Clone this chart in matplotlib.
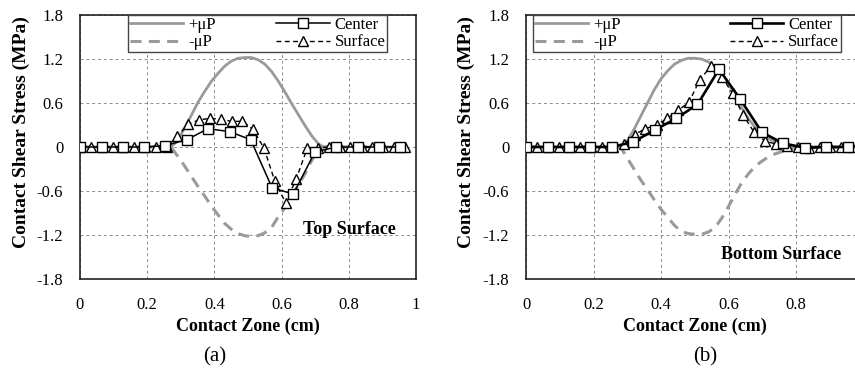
"""Contact shear stress along the contact zone, top (a) and bottom (b) surface.
Excel-style look: serif font, dashed grey grid, boxed legend at the top.
"""
import matplotlib
matplotlib.use("Agg")
import matplotlib.pyplot as plt

# marker positions (cm)
CENTER_X = [0, 0.064, 0.127, 0.19, 0.254, 0.318, 0.381, 0.445, 0.508, 0.572,
            0.635, 0.699, 0.762, 0.826, 0.889, 0.953]
SURFACE_X = [0, 0.032, 0.064, 0.097, 0.129, 0.161, 0.193, 0.225, 0.258, 0.29,
             0.322, 0.354, 0.387, 0.419, 0.451, 0.483, 0.515, 0.548, 0.58, 0.612,
             0.644, 0.676, 0.709, 0.741, 0.773, 0.805, 0.838, 0.87, 0.902, 0.934, 0.966]

# (a) top surface
A_CENTER = [0, 0, 0, 0, 0.02, 0.1, 0.25, 0.21, 0.1, -0.56, -0.64, -0.07, 0, 0, 0, 0]
A_SURFACE = [0, 0, 0, 0, 0, 0, 0, 0, 0, 0.15, 0.31, 0.37, 0.39, 0.38, 0.35, 0.35,
             0.24, -0.02, -0.47, -0.76, -0.43, -0.02, -0.01, 0, 0, 0, 0, 0, 0, 0, 0]
A_MU_X = [0, 0.27, 0.29, 0.31, 0.33, 0.35, 0.37, 0.39, 0.41, 0.43, 0.45, 0.47, 0.49,
          0.51, 0.53, 0.55, 0.57, 0.59, 0.61, 0.63, 0.65, 0.67, 0.69, 0.71, 0.725, 0.97]
A_MU_POS = [0, 0, 0.08, 0.25, 0.42, 0.6, 0.75, 0.89, 1.0, 1.1, 1.17, 1.21, 1.22,
            1.22, 1.19, 1.13, 1.03, 0.9, 0.75, 0.59, 0.44, 0.29, 0.15, 0.04, 0, 0]
A_MU_NEG = [0, 0, -0.12, -0.25, -0.39, -0.53, -0.66, -0.8, -0.92, -1.04, -1.12, -1.18,
            -1.21, -1.22, -1.21, -1.17, -1.1, -0.95, -0.83, -0.67, -0.52, -0.36, -0.18,
            -0.04, 0, 0]

# (b) bottom surface
B_CENTER = [0, 0, 0, 0, 0, 0.07, 0.23, 0.39, 0.58, 1.06, 0.65, 0.2, 0.05, -0.01, 0, 0]
B_SURFACE = [0, 0, 0, 0, 0, 0, 0, 0, 0, 0.04, 0.17, 0.25, 0.3, 0.39, 0.5, 0.61, 0.92,
             1.1, 0.96, 0.73, 0.43, 0.2, 0.08, 0.04, 0.02, 0.0, -0.02, 0, 0, 0, 0]
B_MU_X = [0, 0.28, 0.3, 0.32, 0.34, 0.36, 0.38, 0.4, 0.42, 0.44, 0.46, 0.48, 0.5, 0.52,
          0.54, 0.56, 0.58, 0.6, 0.62, 0.64, 0.66, 0.68, 0.7, 0.72, 0.74, 0.76, 0.78,
          0.8, 0.82, 0.97]
B_MU_POS = [0, 0, 0.08, 0.24, 0.42, 0.6, 0.78, 0.93, 1.04, 1.13, 1.18, 1.21, 1.21, 1.2,
            1.16, 1.1, 1.0, 0.86, 0.7, 0.53, 0.38, 0.26, 0.17, 0.11, 0.07, 0.04, 0.02,
            0, 0, 0]
B_MU_NEG = [0, 0, -0.15, -0.3, -0.45, -0.58, -0.72, -0.85, -0.96, -1.07, -1.15, -1.18,
            -1.19, -1.19, -1.16, -1.1, -0.97, -0.81, -0.64, -0.48, -0.36, -0.26, -0.19,
            -0.13, -0.09, -0.06, -0.03, -0.01, 0, 0]

Y_TICKS = [-1.8, -1.2, -0.6, 0, 0.6, 1.2, 1.8]
Y_LABELS = ["-1.8", "-1.2", "-0.6", "0", "0.6", "1.2", "1.8"]
X_TICKS = [0, 0.2, 0.4, 0.6, 0.8, 1.0]
X_LABELS_A = ["0", "0.2", "0.4", "0.6", "0.8", "1"]
X_LABELS_B = ["0", "0.2", "0.4", "0.6", "0.8", ""]   # "1" falls outside the crop

GREY = "#9a9a9a"

plt.rcParams["font.family"] = ["Liberation Serif", "DejaVu Serif"]


def draw(ax, center, surface, mu_x, mu_pos, mu_neg, center_lw, xlabels,
         note, note_xy, leg_box):
    ax.plot(mu_x, mu_pos, color=GREY, lw=2.0, label="+\u03bcP", zorder=2)
    ax.plot(mu_x, mu_neg, color=GREY, lw=2.2, linestyle=(0, (3.6, 2.4)),
            label="-\u03bcP", zorder=2)
    ax.plot(CENTER_X, center, color="black", lw=center_lw, marker="s", ms=7,
            mfc="white", mec="black", mew=1.0, label="Center", zorder=4)
    ax.plot(SURFACE_X, surface, color="black", lw=1.0, linestyle=(0, (3.5, 2.5)),
            marker="^", ms=7.5, mfc="white", mec="black", mew=1.0,
            label="Surface", zorder=3)

    ax.set_xlim(0, 1)
    ax.set_ylim(-1.8, 1.8)
    ax.set_xticks(X_TICKS)
    ax.set_xticklabels(xlabels)
    ax.set_yticks(Y_TICKS)
    ax.set_yticklabels(Y_LABELS)
    ax.tick_params(axis="y", length=0, labelsize=12, pad=12)
    ax.tick_params(axis="x", length=0, labelsize=12, pad=13)
    ax.grid(True, color="#8c8c8c", lw=0.7, linestyle=(0, (3, 3)))
    ax.set_axisbelow(True)
    for s in ax.spines.values():
        s.set_color("#222222")
        s.set_linewidth(1.2)

    ax.set_xlabel("Contact Zone (cm)", fontsize=13, fontweight="bold", labelpad=3)
    ax.set_ylabel("Contact Shear Stress (MPa)", fontsize=14, fontweight="bold")
    ax.yaxis.set_label_coords(-0.15, 0.555)
    ax.text(note_xy[0], note_xy[1], note, fontsize=13, fontweight="bold",
            ha="right", va="center", zorder=5)

    h, l = ax.get_legend_handles_labels()
    leg = ax.legend(h, l, ncol=2, loc="upper left", bbox_to_anchor=leg_box,
                    mode="expand", borderaxespad=0, fontsize=12, handlelength=3.2,
                    frameon=True, fancybox=False, framealpha=1, edgecolor="#444444",
                    borderpad=0.1, labelspacing=0.1, handletextpad=0.3,
                    columnspacing=1.0)
    leg.get_frame().set_linewidth(1.0)


def main():
    fig = plt.figure(figsize=(8.55, 3.72), dpi=100)
    ax_a = fig.add_axes([80 / 855, 93 / 372, 336 / 855, 264 / 372])
    ax_b = fig.add_axes([526 / 855, 93 / 372, 337.5 / 855, 264 / 372])

    draw(ax_a, A_CENTER, A_SURFACE, A_MU_X, A_MU_POS, A_MU_NEG, 1.1, X_LABELS_A,
         "Top Surface", (0.94, -1.12), (0.143, 0.85, 0.771, 0.15))
    draw(ax_b, B_CENTER, B_SURFACE, B_MU_X, B_MU_POS, B_MU_NEG, 1.9, X_LABELS_B,
         "Bottom Surface", (0.933, -1.47), (0.021, 0.85, 0.912, 0.15))

    fig.text(215 / 855, 15 / 372, "(a)", fontsize=15, ha="center", va="center")
    fig.text(705 / 855, 15 / 372, "(b)", fontsize=15, ha="center", va="center")

    fig.savefig("out.png", dpi=100)
    plt.close(fig)


if __name__ == "__main__":
    main()
